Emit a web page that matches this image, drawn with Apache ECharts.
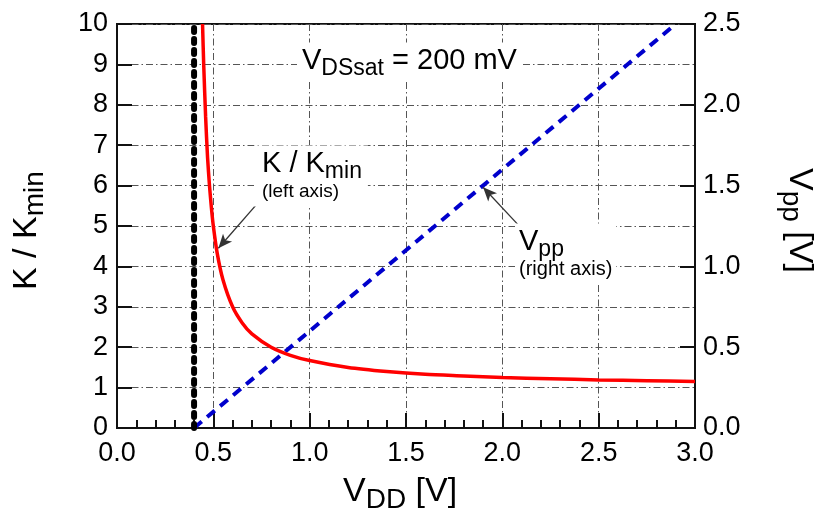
<!DOCTYPE html>
<html>
<head>
<meta charset="utf-8">
<script src="https://cdn.jsdelivr.net/npm/echarts@6/dist/echarts.min.js"></script>
<style>
  html, body { margin: 0; padding: 0; background: #fff; }
  #chart { width: 827px; height: 520px; }
</style>
</head>
<body>
<div id="chart"></div>
<script>
// Supply voltage axis (V)
const vddTicks = [0.0, 0.5, 1.0, 1.5, 2.0, 2.5, 3.0];

// K / Kmin versus VDD (left axis)
const kX = [0.444, 0.45, 0.46, 0.47, 0.48, 0.49, 0.50, 0.52, 0.55, 0.60, 0.65, 0.70,
            0.80, 0.90, 1.00, 1.20, 1.40, 1.60, 1.80, 2.00, 2.25, 2.50, 2.75, 3.00];
const kVal = [10.0, 9.0, 7.7, 6.7, 6.0, 5.45, 5.0, 4.33, 3.67, 3.0, 2.6, 2.33,
              2.0, 1.8, 1.67, 1.5, 1.4, 1.33, 1.29, 1.25, 1.22, 1.19, 1.17, 1.15];

// Output swing Vpp versus VDD (right axis)
const vppX = [0.4, 2.9];
const vppVal = [0.0, 2.5];

// Minimum supply limit (2 x VDSsat)
const limitX = [0.4, 0.4];
const limitVal = [0, 10];

const FONT = '"Liberation Sans", Arial, sans-serif';
const GRID_DASH = [7, 3, 1.5, 3];

const zip = (xs, ys) => xs.map((x, i) => [x, ys[i]]);

const chart = echarts.init(document.getElementById('chart'), null, { renderer: 'canvas' });

// rich-text styles for labels with subscripts
function richStyles(main, sub, drop, note) {
  return {
    m: { fontSize: main, fontFamily: FONT, color: '#000', lineHeight: main + 4 },
    s: { fontSize: sub, fontFamily: FONT, color: '#000', lineHeight: sub, padding: [drop, 0, 0, 0] },
    n: { fontSize: note || 19, fontFamily: FONT, color: '#000', lineHeight: 22 }
  };
}

const arrowMark = (from, to) => ({
  silent: true, symbol: ['none', 'arrow'], symbolSize: [9, 14],
  label: { show: false },
  emphasis: { disabled: true },
  itemStyle: { color: '#111' },
  lineStyle: { color: '#333', width: 1.3, type: 'solid' },
  data: [[{ coord: from }, { coord: to }]]
});

const option = {
  backgroundColor: '#fff',
  animation: false,
  grid: {
    left: 117, right: 132, top: 24, bottom: 92,
    show: true, borderColor: '#111', borderWidth: 2, backgroundColor: 'transparent'
  },
  xAxis: {
    type: 'value', min: 0, max: 3, interval: 0.5,
    axisLine: { show: true, lineStyle: { color: '#111', width: 2 } },
    axisTick: { show: true, inside: true, length: 15, lineStyle: { color: '#111', width: 2 } },
    minorTick: { show: true, splitNumber: 5, length: 8, lineStyle: { color: '#111', width: 2 } },
    axisLabel: {
      fontSize: 27, fontFamily: FONT, color: '#000', margin: 12,
      formatter: v => v.toFixed(1)
    },
    splitLine: { show: true, lineStyle: { color: '#555', width: 1, type: GRID_DASH } }
  },
  yAxis: [
    {
      type: 'value', min: 0, max: 10, interval: 1, position: 'left',
      axisLine: { show: true, lineStyle: { color: '#111', width: 2 } },
      axisTick: { show: true, inside: true, length: 15, lineStyle: { color: '#111', width: 2 } },
      axisLabel: { fontSize: 27, fontFamily: FONT, color: '#000', margin: 9 },
      splitLine: { show: true, lineStyle: { color: '#555', width: 1, type: GRID_DASH } }
    },
    {
      type: 'value', min: 0, max: 2.5, interval: 0.5, position: 'right',
      axisLine: { show: true, lineStyle: { color: '#111', width: 2 } },
      axisTick: { show: true, inside: true, length: 15, lineStyle: { color: '#111', width: 2 } },
      axisLabel: {
        fontSize: 27, fontFamily: FONT, color: '#000', margin: 8,
        formatter: v => v.toFixed(1)
      },
      splitLine: { show: false }
    }
  ],
  series: [
    {
      name: 'Vpp', type: 'line', yAxisIndex: 1, data: zip(vppX, vppVal),
      showSymbol: false, z: 3,
      lineStyle: { color: '#0000cc', width: 4, type: [10, 7] },
      markLine: arrowMark([2.08, 1.26], [1.90, 1.49])
    },
    {
      name: 'K/Kmin', type: 'line', yAxisIndex: 0, data: zip(kX, kVal),
      showSymbol: false, smooth: 0.25, z: 4,
      lineStyle: { color: '#ff0000', width: 3.5 },
      markLine: arrowMark([0.753, 5.69], [0.526, 4.45])
    },
    {
      name: 'limit', type: 'line', yAxisIndex: 0, data: zip(limitX, limitVal),
      showSymbol: false, z: 5,
      lineStyle: { color: '#000', width: 6, type: [4, 7], cap: 'round' }
    }
  ],
  graphic: [
    // annotation: VDSsat
    {
      type: 'text', left: 297, top: 42, z: 10,
      style: {
        text: '{m|V}{s|DSsat}{m| = 200 mV}',
        rich: richStyles(29, 23, 15),
        backgroundColor: '#fff', padding: [2, 4, 2, 5]
      }
    },
    // annotation: K / Kmin (left axis)
    {
      type: 'text', left: 254, top: 145, z: 10,
      style: {
        text: '{m|K / K}{s|min}\n{n|(left axis)}',
        rich: richStyles(29, 23, 15, 19),
        backgroundColor: '#fff', padding: [2, 6, 4, 8]
      }
    },
    // annotation: Vpp (right axis)
    {
      type: 'text', left: 515, top: 223, z: 10,
      style: {
        text: '{m|V}{s|pp}\n{n|(right axis)}',
        rich: richStyles(29, 23, 15, 20),
        backgroundColor: '#fff', padding: [2, 4, 4, 4]
      }
    },
    // x-axis title
    {
      type: 'text', left: 343, top: 470, z: 10,
      style: { text: '{m|V}{s|DD}{m| [V]}', rich: richStyles(34, 28, 16) }
    },
    // left-axis title
    {
      type: 'text', x: 8, y: 290, rotation: Math.PI / 2, z: 10,
      style: { text: '{m|K / K}{s|min}', rich: richStyles(34, 28, 16) }
    },
    // right-axis title
    {
      type: 'text', x: 818, y: 168, rotation: -Math.PI / 2, z: 10,
      style: { text: '{m|V}{s|pp}{m| [V]}', rich: richStyles(34, 28, 16) }
    }
  ]
};

chart.setOption(option);
</script>
</body>
</html>
